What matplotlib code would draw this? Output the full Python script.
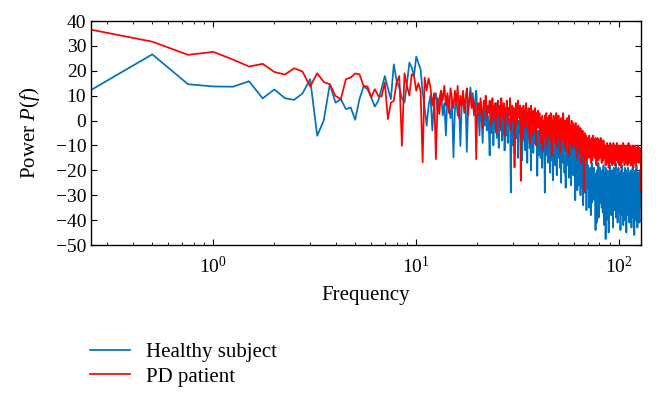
import numpy as np
import matplotlib
matplotlib.use('Agg')
import matplotlib.pyplot as plt
from matplotlib.ticker import LogLocator, MultipleLocator, NullFormatter

# Power spectrum values, one value every 0.25 Hz
healthy = [
    12.3, 26.6, 14.6, 13.7, 13.6, 15.8, 8.9, 12.5, 9.0, 8.3,
    10.9, 16.6, -6.1, 0.0, 14.6, 7.2, 8.6, 4.6, 5.3, 0.3,
    8.6, 13.7, 12.6, 9.3, 5.6, 8.0, 12.9, 17.9, 13.0, 8.6,
    22.6, 16.0, 13.3, 9.0, 7.2, 15.0, 23.3, 21.3, 18.0, 25.7,
    23.0, 20.7, 11.3, 5.0, -2.1, 6.0, 10.0, -4.0, 8, 11,
    3, 9, 12, 2, 7, -6, 10, 5, 1, 8,
    -14.8, 4, 9, 2, 7, -10.2, 6, 10, 3, 8,
    -12.6, 5, 9, 13.3, 6, 11, 2, 8, 12, 4,
    3, -6, 7, 1, -9, 5, -2, 8, -4, 2,
    -1, -14, 4, -5, 6, -10, 1, -3, 7, -7,
    2, -11, 3, -4, 5, -8, -1, 4, -12, 0,
    -6, 3, -9, 1, -3, -2, -28.9, 2, -10, -4,
    1, -13, -3, 2, -7, -1, -15, 0, -5, 3,
    -9, -2, -16, -4, 1, -8, -3, -12, -1, -6,
    -17, -2, -7, 0, -11, -4, -20, -3, -8, -1,
    -13, -5, -9, -2, -6, -3, -7, -22.2, -4, -14,
    -6, -11, -3, -15, -8, -5, -19, -9, -4, -12,
    -7, -29, -10, -5, -14, -8, -3, -17, -11, -6,
    -13, -7, -21, -9, -4, -12, -16, -8, -24, -10,
    -6, -14, -9, -18, -5, -11, -22, -8, -13, -7,
    -15, -10, -4, -19, -12, -8, -25, -11, -6, -14,
    -9, -17, -12, -7, -21, -10, -15, -27, -8, -13,
    -11, -6, -18, -14, -9, -23, -12, -16, -8, -20,
    -13, -26, -10, -15, -8, -19, -12, -22, -9, -16,
    -14, -11, -32, -18, -9, -24, -13, -17, -28, -12,
    -19, -13, -26, -10, -17, -22, -14, -30, -12, -18,
    -21, -15, -27, -13, -19, -34, -16, -22, -12, -25,
    -18, -29, -14, -23, -17, -36, -20, -15, -27, -21,
    -18, -27, -22, -35, -20, -25, -31, -19, -24, -38,
    -21, -28, -17, -33, -23, -30, -26, -20, -29, -24,
    -19, -32, -25, -22, -36, -44, -27, -30, -21, -41,
    -26, -20, -34, -23, -29, -17, -39, -24, -28, -22,
    -31, -19, -26, -33, -23, -30, -21, -35, -25, -20,
    -28, -37, -22, -27, -18, -33, -24, -42, -26, -21,
    -30, -23, -47.6, -19, -27, -25, -40, -22, -29, -34,
    -20, -26, -31, -24, -45, -21, -28, -23, -35, -27,
    -18, -32, -25, -29, -22, -38, -26, -20, -33, -24,
    -27, -21, -43, -25, -30, -19, -34, -23, -28, -36,
    -22, -29, -24, -31, -17, -39, -26, -23, -33, -20,
    -28, -25, -41, -22, -30, -27, -19, -35, -24, -32,
    -21, -37, -26, -29, -23, -44, -25, -20, -31, -27,
    -24, -33, -18, -28, -38, -22, -30, -26, -42, -23,
    -29, -21, -34, -25, -27, -40, -19, -31, -24, -36,
    -22, -28, -26, -45, -23, -32, -20, -29, -35, -25,
    -27, -19, -38, -24, -30, -22, -33, -26, -41, -21,
    -31, -25, -28, -36, -20, -34, -23, -29, -27, -43,
    -24, -30, -22, -37, -26, -19, -32, -25, -39, -28,
    -21, -35, -27, -24, -46, -23, -30, -26, -33, -20,
    -29, -25, -40, -22, -31, -27, -18, -36, -24, -32,
    -26, -43, -23, -28, -21, -34, -30, -25, -38, -22,
    -27, -33, -24, -41, -20, -29, -26, -35, -23, -31,
    -28, -22,
]

patient = [
    36.5, 31.7, 26.4, 27.6, 24.5, 21.7, 22.8, 19.5, 18.5, 21.0,
    19.7, 13.7, 19.0, 15.5, 14.6, 9.9, 8.6, 16.6, 17.3, 18.9,
    18.6, 13.9, 13.7, 9.3, 12.6, 9.9, 9.7, 15.3, 0.6, 7.2,
    7.9, 15.3, 17.9, -10.2, 19.0, 13.9, 10.0, 18.6, 17.9, 12.0,
    15.0, 12.0, -16.8, 17.3, 12.0, 17.0, 13.3, 6.0, 11, -15.5,
    9, 2.6, 12, 8, 14, 6, 11, 3, 13, 9,
    5, 12, 7, 14, 1, 10, 6, 12, 4, 9,
    13, 2, 8, 11, 5, 9, 3, 7, -15.5, 6,
    7, 2, 9, 4, -3, 8, 5, 10, 1, 6,
    3, 8, -2, 6, 9, 0, 5, 7, -5, 4,
    8, 2, 6, -3, 9, 4, 1, 7, -6, 5,
    3, 8, -1, 5, 2, 9, -4, 4, 6, 0,
    5, -18.8, 3, 7, -2, 4, 8, 1, 2, 6,
    -24.2, 5, 3, -7, 6, 1, 4, -3, 7, 0,
    3, -5, 5, 1, -9, 4, 6, -2, 2, -6,
    4, 0, -4, 5, 2, -10, 3, -1, 4, -3,
    -2, 3, -6, 1, -9, -3, 2, -5, -12, 0,
    -4, 2, -7, -1, 3, -10, -3, 1, -6, -2,
    2, -8, -4, 3, -1, -14, -5, 0, -3, 2,
    -6, -2, 1, -9, -4, 3, -3, -11, -1, -5,
    2, -7, -2, 0, -13, -4, 1, -6, -3, -8,
    -1, 3, -5, -10, -2, 0, -7, -3, -12, -1,
    -4, 1, -8, -3, -6, 2, -14, -5, -2, -7,
    -3, -9, 0, -5, -11, -4, -1, -8, -6, -2,
    -10, -5, -7, -1, -12, -6, -3, -15, -8, -4,
    -9, -2, -11, -7, -5, -13, -8, -3, -10, -17,
    -6, -12, -8, -4, -14, -9, -7, -28.6, -11, -5,
    -13, -8, -10, -16, -6, -12, -9, -15, -11, -7,
    -7, -12, -9, -15, -6, -11, -8, -14, -10, -17,
    -8, -13, -7, -11, -16, -9, -12, -6, -14, -10,
    -11, -8, -15, -9, -12, -7, -13, -10, -18, -8,
    -10, -14, -7, -12, -9, -16, -11, -8, -13, -10,
    -15, -9, -12, -7, -14, -10, -11, -17, -8, -13,
    -10, -13, -11, -16, -8, -14, -12, -10, -15, -11,
    -14, -10, -18, -12, -15, -11, -13, -17, -9, -14,
    -12, -16, -11, -13, -19, -10, -15, -12, -14, -11,
    -15, -9, -13, -17, -12, -14, -10, -16, -13, -18,
    -11, -14, -12, -15, -9, -17, -13, -11, -16, -12,
    -13, -18, -10, -14, -12, -16, -11, -15, -13, -9,
    -16, -12, -14, -11, -17, -13, -10, -15, -12, -18,
    -12, -15, -11, -13, -16, -10, -14, -19, -12, -13,
    -10, -14, -17, -12, -15, -11, -13, -16, -9, -14,
    -13, -11, -16, -12, -18, -14, -10, -15, -13, -12,
    -15, -12, -13, -17, -11, -14, -16, -10, -13, -18,
    -11, -15, -12, -14, -9, -16, -13, -12, -17, -11,
    -14, -12, -16, -13, -10, -15, -18, -12, -14, -11,
    -13, -17, -11, -15, -12, -14, -10, -16, -13, -19,
    -12, -14, -15, -11, -17, -13, -12, -16, -10, -14,
    -15, -11, -13, -18, -12, -14, -16, -11, -13, -15,
    -12, -16, -14, -10, -15, -13, -17, -12, -14, -11,
    -16, -13, -12, -15, -11, -17, -14, -12, -15, -13,
    -14, -28,
]

# frequency grid (0.25 Hz resolution)
freq = 0.25 * np.arange(1, len(healthy) + 1)

plt.rcParams['font.family'] = ['Liberation Serif', 'DejaVu Serif']
plt.rcParams['mathtext.fontset'] = 'custom'
plt.rcParams['mathtext.rm'] = 'Liberation Serif'
plt.rcParams['mathtext.it'] = 'Liberation Serif:italic'

fig = plt.figure(figsize=(6.56, 4.0), dpi=100)
ax = fig.add_axes([0.139, 0.3875, 0.838, 0.56])

ax.plot(freq, healthy, color='#0072BD', lw=1.25, label='Healthy subject')
ax.plot(freq, patient, color='#FF0000', lw=1.25, label='PD patient')

ax.set_xscale('log')
ax.set_xlim(0.25, 128)
ax.set_ylim(-50, 40)
ax.yaxis.set_major_locator(MultipleLocator(10))
ax.xaxis.set_major_locator(LogLocator(base=10))
ax.xaxis.set_minor_locator(LogLocator(base=10, subs=np.arange(2, 10)))
ax.xaxis.set_minor_formatter(NullFormatter())

ax.tick_params(which='both', direction='in', top=True, right=True,
               labelsize=14, colors='black')
ax.tick_params(which='major', length=4, width=0.8)
ax.tick_params(which='minor', length=2, width=0.6)
ax.tick_params(axis='x', pad=8)
for s in ax.spines.values():
    s.set_linewidth(1.0)

ax.set_xlabel('Frequency', fontsize=15, labelpad=6)
ax.set_ylabel('Power $P(f)$', fontsize=15, labelpad=10)

fig.legend(loc='upper left', bbox_to_anchor=(0.125, 0.165), frameon=False,
           fontsize=15, handlelength=1.9, handletextpad=0.75,
           labelspacing=0.25, borderaxespad=0)

fig.savefig('out.png', dpi=100)
